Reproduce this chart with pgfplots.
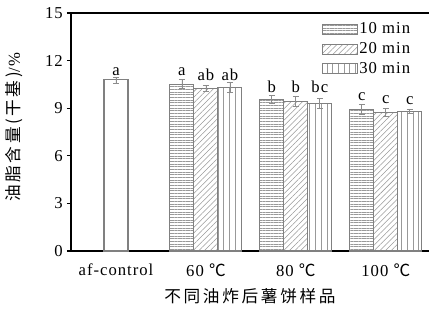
\documentclass[border=0pt]{standalone}
\usepackage{fontspec}
\setmainfont{Liberation Serif}[LetterSpace=6]
\newfontfamily\cjk{Noto Sans CJK SC}[LetterSpace=16]
\usepackage{pgfplots}
\usepackage{pgfplotstable}
\pgfplotsset{compat=1.18}
\usetikzlibrary{patterns.meta}

\pgfplotstableread{
x y e
0 10.78 0.19
}\ctrl
\pgfplotstableread{
x y e
0.7333 10.52 0.30
1.7333 9.55 0.25
2.7333 8.92 0.32
}\tena
\pgfplotstableread{
x y e
1 10.25 0.20
2 9.43 0.32
3 8.74 0.23
}\twen
\pgfplotstableread{
x y e
1.2667 10.30 0.33
2.2667 9.28 0.32
3.2667 8.80 0.15
}\thir
\pgfplotstableread{
x y m
0 11.05 a
0.7333 11.05 a
1 10.73 ab
1.2667 10.77 ab
1.7333 9.97 b
2 9.97 b
2.2667 9.97 bc
2.7333 9.51 c
3 9.30 c
3.2667 9.26 c
}\letters

\begin{document}
\fontsize{12.5}{15}\selectfont
\begin{tikzpicture}
\pgfplotsset{
  eb/.style={error bars/.cd, y dir=both, y explicit,
    error bar style={black!45, line width=0.6pt},
    error mark options={rotate=90, mark size=2.2pt, black!45, line width=0.6pt}},
  barbase/.style={ybar, bar width=0.2667, bar shift=0, draw=black!50, line width=0.8pt, forget plot},
}
\begin{axis}[
  width=268.5pt, height=178.5pt, scale only axis,
  xmin=-0.5, xmax=3.48, ymin=0, ymax=15,
  ytick={0,3,6,9,12,15},
  xtick={0,1,2,3},
  xticklabels={af-control, 60 {\cjk ℃}, 80 {\cjk ℃}, 100 {\cjk ℃}},
  axis x line*=bottom, axis y line*=left,
  axis line style={line width=1.2pt, black},
  tick align=outside,
  major tick length=3pt,
  ytick style={line width=0.8pt, black},
  xtick style={draw=none},
  /pgf/number format/assume math mode=true,
  yticklabel style={inner sep=3pt},
  xticklabel style={yshift=-2pt},
  xlabel={\cjk 不同油炸后薯饼样品},
  ylabel={{\cjk 油脂含量(干基)}/\%},
  every axis x label/.style={at={(axis description cs:0.5,-0.189)}, anchor=center},
  every axis y label/.style={at={(axis description cs:-0.158,0.52)}, rotate=90, anchor=center},
  legend style={at={(rel axis cs:0.70,0.968)}, anchor=north west, draw=none, fill=none, inner sep=0pt, row sep=1.5pt, nodes={inner sep=1.5pt}},
  legend cell align=left,
  clip=false,
]
\addplot[barbase, fill=white, eb] table[x=x,y=y,y error=e]{\ctrl};
\addplot[barbase, pattern={Lines[angle=0,distance=2pt,line width=0.4pt]}, pattern color=black!40, eb] table[x=x,y=y,y error=e]{\tena};
\addplot[barbase, pattern={Lines[angle=45,distance=3pt,line width=0.4pt]}, pattern color=black!40, eb] table[x=x,y=y,y error=e]{\twen};
\addplot[barbase, pattern={Lines[angle=90,distance=4.3pt,line width=0.4pt]}, pattern color=black!40, eb] table[x=x,y=y,y error=e]{\thir};
\addplot[draw=none, forget plot, nodes near coords, point meta=explicit symbolic,
  every node near coord/.append style={anchor=base, inner sep=0pt}] table[x=x,y=y,meta=m]{\letters};

\addlegendimage{legend image code/.code={\draw[black!50, line width=0.6pt, pattern={Lines[angle=0,distance=2pt,line width=0.4pt]}, pattern color=black!40] (0pt,-3.75pt) rectangle (26pt,3.75pt);}}
\addlegendentry{10 min}
\addlegendimage{legend image code/.code={\draw[black!50, line width=0.6pt, pattern={Lines[angle=45,distance=3pt,line width=0.4pt]}, pattern color=black!40] (0pt,-3.75pt) rectangle (26pt,3.75pt);}}
\addlegendentry{20 min}
\addlegendimage{legend image code/.code={\draw[black!50, line width=0.6pt, pattern={Lines[angle=90,distance=4.3pt,line width=0.4pt]}, pattern color=black!40] (0pt,-3.75pt) rectangle (26pt,3.75pt);}}
\addlegendentry{30 min}

\coordinate (ll) at (rel axis cs:0,0);
\coordinate (ur) at (rel axis cs:1,1);
\end{axis}
\draw[line width=1.2pt] ([xshift=-0.6pt]ll |- ur) -- (ur);
\pgfresetboundingbox
\path ([xshift=-53.25pt,yshift=-42.75pt]ll) rectangle ([yshift=9.75pt]ur);
\end{tikzpicture}
\end{document}
